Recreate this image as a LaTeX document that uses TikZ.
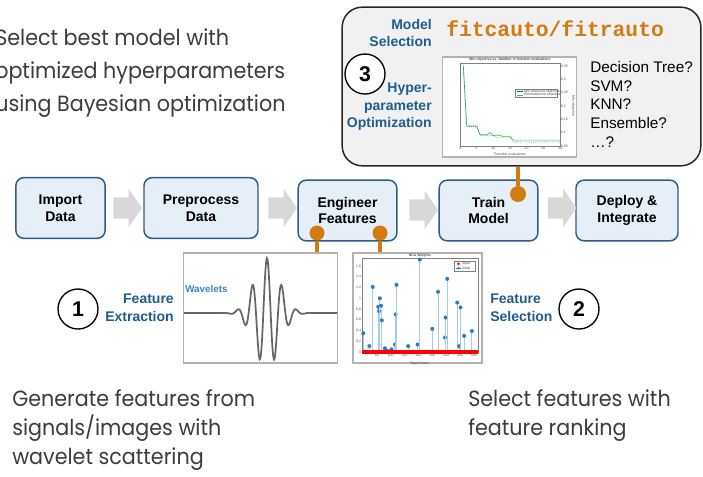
\documentclass[tikz,border=0pt]{standalone}
\usepackage{fontspec}
\setmainfont{Liberation Sans}
\setmonofont{Liberation Mono}
\newfontfamily\roundfont[FakeStretch=0.94]{Poppins}
\usepackage{xcolor}
\usetikzlibrary{shapes.arrows}
\definecolor{headblue}{HTML}{1F5D8E}
\definecolor{waveblue}{HTML}{3A87C6}
\definecolor{stageline}{HTML}{2C5C8C}
\definecolor{stagefill}{HTML}{E6EEF7}
\definecolor{arrowgray}{HTML}{D8D8D8}
\definecolor{linkorange}{HTML}{D27B0F}
\definecolor{textgray}{HTML}{3C3C3C}
\definecolor{panelgray}{HTML}{F1F1F1}
\definecolor{stemblue}{HTML}{2A7DC0}
\definecolor{stemline}{HTML}{A9CBE6}
\definecolor{objgreen}{HTML}{33CC33}

\begin{document}
\begin{tikzpicture}[x=0.75pt,y=-0.75pt,
  stage/.style={draw=stageline,line width=1.1pt,fill=stagefill,rounded corners=6pt,
    minimum height=45.5pt,align=center,font=\bfseries\fontsize{10.5}{12.6}\selectfont},
  gap/.style={single arrow,fill=arrowgray,inner sep=7.8pt,single arrow head extend=6.4pt,
    single arrow tip angle=110,minimum height=19.5pt},
  heading/.style={inner sep=0pt,text=headblue,font=\bfseries\fontsize{10.5}{13}\selectfont},
  numcirc/.style={circle,draw,line width=1pt,minimum size=30pt,inner sep=0pt,font=\bfseries\fontsize{16}{16}\selectfont},
  joint/.style={circle,fill=linkorange,minimum size=11.25pt,inner sep=0pt},
  link/.style={draw=linkorange,line width=3pt},
  shot/.style={draw=gray!60,fill=white,line width=0.8pt,inner sep=0pt},
  note/.style={inner sep=0pt,align=left,text=textgray,font=\roundfont\fontsize{16.5}{24.75}\selectfont},
  tiny/.style={inner sep=0.5pt,font=\fontsize{2.6}{3}\selectfont,text=black!70}]
\useasboundingbox (0,0) rectangle (703,476);

% what each step does
\node[note,anchor=north west] (goal3) at (-5,28) {Select best model with\\optimized hyperparameters\\using Bayesian optimization};
\node[note,anchor=north west,font=\roundfont\fontsize{16.5}{21.75}\selectfont] (goal1) at (12,389) {Generate features from\\signals/images with\\wavelet scattering};
\node[note,anchor=north west,font=\roundfont\fontsize{16.5}{21.75}\selectfont] (goal2) at (468,389) {Select features with\\feature ranking};

% model selection panel
\node[draw=black!85,line width=1.1pt,fill=panelgray,rounded corners=15pt,minimum width=269pt,minimum height=119pt] (panel) at (521.5,86.5) {};
\node[heading,anchor=north east,align=right] (ms) at (432,19) {Model\\Selection};
\node[anchor=base west,inner sep=0pt,text=linkorange,font=\ttfamily\bfseries\fontsize{16}{16}\selectfont] (fit) at (446,36) {fitcauto/fitrauto};
\node[numcirc,fill=white] (n3) at (365,74) {3};
\node[heading,anchor=north east,align=right] (hpo) at (432,83) {Hyper-\\parameter\\Optimization};
\node[anchor=north west,inner sep=0pt,align=left,font=\fontsize{11.5}{14}\selectfont] (algs) at (590,61) {Decision Tree?\\SVM?\\KNN?\\Ensemble?\\\ldots?};
\node[shot,minimum width=100pt,minimum height=75pt] (objplot) at (509.5,107) {};
\begin{scope}[shift={(460,159.35)},x=2.5pt,y=200.25pt]
  \draw[black!50,line width=0.3pt] (0,0.05) rectangle (30,0.36);
  \foreach \e in {0,5,...,30} \node[tiny,below] at (\e,0.05) {\e};
  \foreach \v in {0.05,0.1,0.15,0.2,0.25,0.3,0.35} \node[tiny,right] at (30,\v) {\v};
  \node[tiny,font=\bfseries\fontsize{2.6}{3}\selectfont] at (15,0.375) {Min objective vs. Number of function evaluations};
  \node[tiny] at (15,0.02) {Function evaluations};
  \node[tiny,rotate=-90] at (34,0.2) {Min objective};
  \draw[objgreen,line width=0.5pt] plot coordinates {(1,0.35) (2,0.125) (5,0.125) (6,0.092) (8,0.092) (9,0.1) (10,0.09) (12,0.09) (13,0.085) (15,0.085) (16,0.072) (30,0.072)};
  \draw[blue!80,line width=0.4pt,densely dotted] plot coordinates {(1,0.35) (2,0.123) (5,0.123) (6,0.09) (10,0.09) (11,0.083) (15,0.083) (16,0.065) (30,0.065)};
  \draw[black!50,line width=0.2pt,fill=white] (16.5,0.263) rectangle (29.1,0.233);
  \draw[blue!80,line width=0.4pt] (17,0.255) -- (19,0.255);
  \draw[objgreen,line width=0.4pt] (17,0.241) -- (19,0.241);
  \node[tiny,anchor=west] at (19,0.255) {Min observed objective};
  \node[tiny,anchor=west] at (19,0.241) {Estimated min objective};
\end{scope}

% workflow
\node[stage,minimum width=67pt] (imp) at (60.5,208) {Import\\Data};
\node[stage,minimum width=85.5pt] (pre) at (201,208) {Preprocess\\Data};
\node[stage,minimum width=74pt] (eng) at (347.5,210.5) {Engineer\\Features};
\node[stage,minimum width=74pt] (trn) at (488.5,210.5) {Train\\Model};
\node[stage,minimum width=76.5pt] (dep) at (627,210.5) {Deploy \&\\Integrate};
\node[gap] (g1) at (124,208) {};
\node[gap] (g2) at (279,208) {};
\node[gap] (g3) at (420,210) {};
\node[gap] (g4) at (558.5,208) {};

% feature extraction
\node[shot,minimum width=116pt,minimum height=82.5pt] (wavplot) at (260.5,308) {};
\node[anchor=base west,inner sep=0pt,text=waveblue,font=\bfseries\fontsize{7.4}{9}\selectfont] (wl) at (185,292) {Wavelets};
\draw[black!60,line width=1.3pt] plot[domain=-83:70,samples=300] ({267+\x},{313-55*cos(\x*24.49)*exp(-\x*\x/312)});
\node[numcirc] (n1) at (78,309) {1};
\node[heading,anchor=north east,align=right] (fe) at (174,294) {Feature\\Extraction};

% feature selection
\node[shot,minimum width=96.75pt,minimum height=82.5pt] (ncaplot) at (417.5,308) {};
\begin{scope}[shift={(363,352)},x=0.20775pt,y=40.3125pt]
  \draw[black!50,line width=0.3pt] (-4,-0.03) rectangle (415,1.75);
  \foreach \w in {0,0.2,0.4,0.6,0.8,1,1.2,1.4,1.6} \node[tiny,left] at (-4,\w) {\w};
  \foreach \i in {50,100,...,400} \node[tiny,below] at (\i,-0.03) {\i};
  \node[tiny,font=\bfseries\fontsize{2.6}{3}\selectfont,above] at (205,1.74) {NCA Weights};
  \node[tiny,below] at (205,-0.17) {Signal index};
  \foreach \i/\w in {1/0.35,23/0.11,35/1.21,55/0.84,58/0.76,61/1.0,65/0.86,68/0.59,79/0.07,85/0.03,100/0.03,103/0.05,115/0.14,118/0.70,121/1.25,163/0.11,197/0.14,205/1.72,250/0.43,271/1.12,296/0.27,298/0.64,304/1.36,340/0.92,347/0.11,352/0.83,365/0.30,393/0.39}
  {
    \draw[stemline,line width=0.7pt] (\i,0) -- (\i,\w);
    \fill[stemblue] (\i,\w) circle (1.5pt);
  }
  \draw[red,line width=2.4pt] (-4,0) -- (415,0);
  \draw[black!50,line width=0.2pt,fill=white] (330,1.7) rectangle (405,1.5);
  \fill[red] (345,1.64) circle (1.1pt);
  \draw[stemblue,line width=0.4pt] (335,1.56) -- (355,1.56);
  \fill[stemblue] (345,1.56) circle (1.1pt);
  \node[tiny,anchor=west] at (356,1.64) {input};
  \node[tiny,anchor=west] at (356,1.56) {keep};
\end{scope}
\node[numcirc] (n2) at (579,309) {2};
\node[heading,anchor=north west,align=left] (fs) at (490,294) {Feature\\Selection};

% links
\node[joint,minimum size=12pt] (j3) at (518,194) {};
\draw[link] (j3) -- (j3 |- panel.south);
\node[joint] (j1) at (317,233) {};
\node[joint] (j2) at (380,233) {};
\draw[link] (j1) -- (j1 |- wavplot.north);
\draw[link] (j2) -- (j2 |- ncaplot.north);
\end{tikzpicture}
\end{document}
